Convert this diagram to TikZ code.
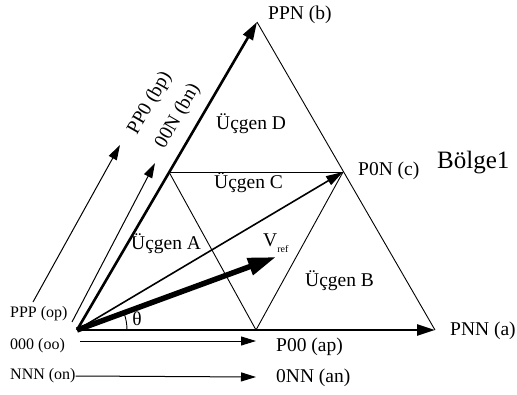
\documentclass[tikz,border=0pt]{standalone}
\usepackage{fontspec}
\setmainfont{Liberation Serif}
\usetikzlibrary{arrows.meta}

\begin{document}
\begin{tikzpicture}[x=1pt,y=-1pt,
  lbl/.style={inner sep=0pt, font=\fontsize{19.5}{22}\selectfont},
  sml/.style={inner sep=0pt, font=\fontsize{16}{18}\selectfont},
  big/.style={inner sep=0pt, font=\fontsize{25}{28}\selectfont},
  side/.style={line width=0.9pt},
  thinarrow/.style={line width=1pt, -{Triangle[length=15pt,width=9pt]}},
  midarrow/.style={line width=1.6pt, -{Triangle[length=17pt,width=10pt]}},
  thickarrow/.style={line width=2.6pt, -{Triangle[length=18pt,width=11pt]}},
  vrefarrow/.style={line width=5.5pt, -{Triangle[length=28pt,width=17pt]}}]
\useasboundingbox (0,0) rectangle (517,394);

% corners of the sector
\coordinate (O) at (77,330);
\coordinate (A) at (435,330);
\coordinate (B) at (257,22);
\coordinate (C) at (343,172);
\coordinate (L) at (169,172);
\coordinate (M) at (256,330);
\coordinate (V) at (276,257);

\draw[side] (B) -- (A);
\draw[side] (L) -- (C);
\draw[side] (L) -- (M) -- (C);
\draw[thickarrow] (O) -- (A);
\draw[thickarrow] (O) -- (B);
\draw[midarrow] (O) -- (C);
\draw[vrefarrow] (O) -- (V);
\draw[side] (O) ++(50,0) arc[start angle=0, end angle=-20, radius=50];

% vertex labels
\node[lbl, anchor=west] at (268,15) (ppn) {PPN (b)};
\node[lbl, anchor=west] at (358,171) (p0n) {P0N (c)};
\node[lbl, anchor=west] at (450,331) (pnn) {PNN (a)};
\node[big, anchor=west] at (437,163) (bolge) {Bölge1};
\node[lbl] at (137,319) (theta) {θ};
\node[lbl, anchor=west] at (263,243) (vref) {V\raisebox{-0.6ex}{\fontsize{10}{11}\selectfont ref}};

% small triangles
\node[lbl, anchor=west] at (216,124) (ucgD) {Üçgen D};
\node[lbl, anchor=west] at (214,183) (ucgC) {Üçgen C};
\node[lbl, anchor=west] at (131,244) (ucgA) {Üçgen A};
\node[lbl, anchor=west] at (305,281) (ucgB) {Üçgen B};

% redundant states
\node[sml, anchor=west] at (10,314) (ppp) {PPP (op)};
\node[sml, anchor=west] at (10,346) (ooo) {000 (oo)};
\node[sml, anchor=west] at (10,376) (nnn) {NNN (on)};
\node[lbl, anchor=west] at (276,347) (p00) {P00 (ap)};
\node[lbl, anchor=west] at (276,378) (onn) {0NN (an)};
\node[lbl, rotate=60] at (150,103) (pp0) {PP0 (bp)};
\node[lbl, rotate=60] at (178,116) (oon) {00N (bn)};

\coordinate (bp0) at (33,302);
\coordinate (bp1) at (120,145);
\coordinate (bn0) at (72,322);
\coordinate (bn1) at (155,163);
\coordinate (ap0) at (80,341);
\coordinate (ap1) at (256,341);
\draw[thinarrow] (bp0) -- (bp1);
\draw[thinarrow] (bn0) -- (bn1);
\draw[thinarrow] (ap0) -- (ap1);
\draw[thinarrow] (nnn.east) -- (256,377);
\end{tikzpicture}
\end{document}
